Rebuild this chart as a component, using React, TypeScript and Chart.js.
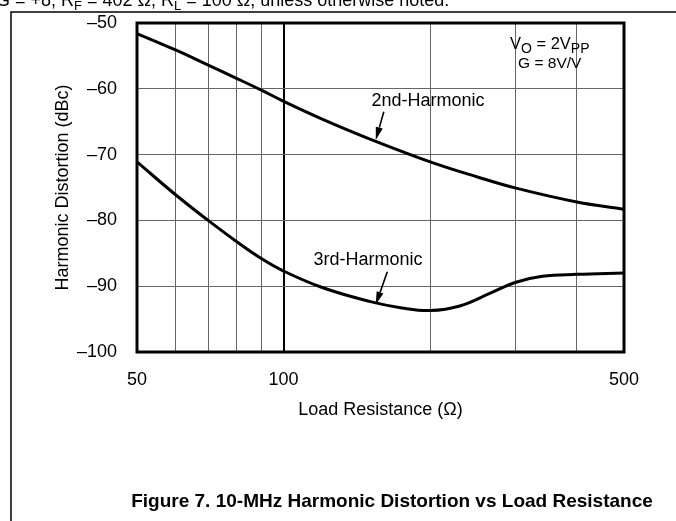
import React, { useEffect, useRef } from 'react';
import { Chart, registerables } from 'chart.js';

Chart.register(...registerables);

// ---------- data ----------
const xTickValues = [50, 60, 70, 80, 90, 100, 200, 300, 400, 500];
const xLabeledTicks = [50, 100, 500];
const yMin = -100;
const yMax = -50;
const yStep = 10;

const secondR = [50, 60, 70, 80, 90, 100, 120, 150, 200, 250, 300, 400, 500];
const secondDBc = [-51.6, -54.1, -56.4, -58.4, -60.2, -61.9, -64.6, -67.6, -71.1, -73.4, -75.1, -77.2, -78.3];

const thirdR = [50, 60, 70, 80, 90, 100, 120, 150, 175, 200, 230, 265, 300, 340, 400, 500];
const thirdDBc = [-71.1, -76.1, -80.0, -83.2, -85.8, -87.7, -90.2, -92.3, -93.3, -93.7, -93.0, -91.1, -89.4, -88.5, -88.2, -88.0];

const seriesNames = ['2nd-Harmonic', '3rd-Harmonic'];
const xTitle = 'Load Resistance (Ω)';
const yTitle = 'Harmonic Distortion (dBc)';
const captionText = 'Figure 7. 10-MHz Harmonic Distortion vs Load Resistance';

// annotation anchors in data units (label centre, arrow tail, arrow tip)
const labelAnchors = [
  { label: [198, -61.9], tail: [160.6, -63.5], tip: [154.6, -67.8] },
  { label: [149, -86.0], tail: [163.3, -87.8], tip: [154.6, -92.8] },
];
const conditionAnchor = [352, -53.1];
const conditionAnchor2 = [352, -55.9];

// ---------- helpers ----------
const FAMILY = '"Liberation Sans", Arial, Helvetica, sans-serif';

type Part = { t: string; sub?: boolean };

function drawRich(ctx: CanvasRenderingContext2D, parts: Part[], x: number, y: number, size: number, subSize: number, align: 'left' | 'center', weight = 'normal') {
  const fontFor = (p: Part) => `${weight} ${p.sub ? subSize : size}px ${FAMILY}`;
  let total = 0;
  for (const p of parts) {
    ctx.font = fontFor(p);
    total += ctx.measureText(p.t).width;
  }
  let cx = align === 'center' ? x - total / 2 : x;
  ctx.textAlign = 'left';
  ctx.textBaseline = 'alphabetic';
  for (const p of parts) {
    ctx.font = fontFor(p);
    ctx.fillText(p.t, cx, p.sub ? y + size * 0.24 : y);
    cx += ctx.measureText(p.t).width;
  }
}

function arrow(ctx: CanvasRenderingContext2D, x1: number, y1: number, x2: number, y2: number) {
  const ang = Math.atan2(y2 - y1, x2 - x1);
  const len = 13;
  const hw = 3.6;
  const bx = x2 - Math.cos(ang) * len;
  const by = y2 - Math.sin(ang) * len;
  ctx.beginPath();
  ctx.moveTo(x1, y1);
  ctx.lineTo(bx, by);
  ctx.lineWidth = 1.6;
  ctx.strokeStyle = '#000';
  ctx.stroke();
  ctx.beginPath();
  ctx.moveTo(x2, y2);
  ctx.lineTo(bx + Math.sin(ang) * hw, by - Math.cos(ang) * hw);
  ctx.lineTo(bx - Math.sin(ang) * hw, by + Math.cos(ang) * hw);
  ctx.closePath();
  ctx.fillStyle = '#000';
  ctx.fill();
}

const overlay = {
  id: 'overlay',
  afterDraw(chart: any) {
    const { ctx, chartArea: a, scales } = chart;
    const xs = scales.x;
    const ys = scales.y;
    ctx.save();
    // plot frame
    ctx.strokeStyle = '#000';
    ctx.lineWidth = 3;
    ctx.strokeRect(a.left, a.top, a.right - a.left, a.bottom - a.top);

    // series labels + arrows
    ctx.fillStyle = '#000';
    labelAnchors.forEach((an, i) => {
      const lx = xs.getPixelForValue(an.label[0]);
      const ly = ys.getPixelForValue(an.label[1]);
      ctx.font = `18px ${FAMILY}`;
      ctx.textAlign = 'center';
      ctx.textBaseline = 'middle';
      ctx.fillText(seriesNames[i], lx, ly);
      arrow(
        ctx,
        xs.getPixelForValue(an.tail[0]), ys.getPixelForValue(an.tail[1]),
        xs.getPixelForValue(an.tip[0]), ys.getPixelForValue(an.tip[1])
      );
    });

    // test conditions
    ctx.fillStyle = '#000';
    drawRich(ctx, [{ t: 'V' }, { t: 'O', sub: true }, { t: ' = 2V' }, { t: 'PP', sub: true }],
      xs.getPixelForValue(conditionAnchor[0]), ys.getPixelForValue(conditionAnchor[1]) + 6, 16.5, 14, 'center');
    drawRich(ctx, [{ t: 'G = 8V/V' }],
      xs.getPixelForValue(conditionAnchor2[0]), ys.getPixelForValue(conditionAnchor2[1]) + 6, 15.5, 12, 'center');

    // page frame lines
    ctx.lineWidth = 1.5;
    ctx.beginPath();
    ctx.moveTo(676, 12);
    ctx.lineTo(11, 12);
    ctx.lineTo(11, 521);
    ctx.stroke();

    // header line (clipped at the top)
    drawRich(ctx, [
      { t: 'G = +8, R' }, { t: 'F', sub: true }, { t: ' = 402 Ω, R' }, { t: 'L', sub: true },
      { t: ' = 100 Ω, unless otherwise noted.' },
    ], -4, 6, 18, 13, 'left');

    // caption
    ctx.font = `bold 19px ${FAMILY}`;
    ctx.textAlign = 'center';
    ctx.textBaseline = 'alphabetic';
    ctx.fillText(captionText, 392, 507);
    ctx.restore();
  },
};

export default function App() {
  const ref = useRef<HTMLCanvasElement>(null);

  useEffect(() => {
    if (!ref.current) return;
    const font = { family: FAMILY, size: 18 };
    const chart = new Chart(ref.current, {
      type: 'line',
      data: {
        datasets: [
          {
            label: seriesNames[0],
            data: secondR.map((r, i) => ({ x: r, y: secondDBc[i] })),
            borderColor: '#000',
            borderWidth: 3,
            pointRadius: 0,
            tension: 0.4,
            fill: false,
          },
          {
            label: seriesNames[1],
            data: thirdR.map((r, i) => ({ x: r, y: thirdDBc[i] })),
            borderColor: '#000',
            borderWidth: 3,
            pointRadius: 0,
            tension: 0.4,
            fill: false,
          },
        ],
      },
      options: {
        animation: false,
        responsive: true,
        maintainAspectRatio: false,
        devicePixelRatio: 1,
        layout: { padding: { left: 0, right: 52, top: 23, bottom: 0 } },
        plugins: { legend: { display: false }, tooltip: { enabled: false }, title: { display: false } },
        scales: {
          x: {
            type: 'logarithmic',
            min: 50,
            max: 500,
            afterBuildTicks: (s: any) => {
              s.ticks = xTickValues.map((v) => ({ value: v }));
            },
            afterFit: (s: any) => {
              s.height = 169;
              s.paddingLeft = 0;
              s.paddingRight = 0;
            },
            ticks: {
              autoSkip: false,
              maxRotation: 0,
              minRotation: 0,
              padding: 17,
              color: '#000',
              font,
              callback: (v: any) => (xLabeledTicks.includes(Number(v)) ? String(v) : ''),
            },
            grid: {
              drawTicks: false,
              color: (c: any) => (c.tick && c.tick.value === 100 ? '#000' : '#666'),
              lineWidth: (c: any) => (c.tick && c.tick.value === 100 ? 2 : 1),
            },
            border: { display: false },
            title: { display: true, text: xTitle, color: '#000', font, padding: { top: 0, bottom: 100 } },
          },
          y: {
            type: 'linear',
            min: yMin,
            max: yMax,
            afterFit: (s: any) => {
              s.width = 137;
              s.paddingTop = 0;
              s.paddingBottom = 0;
            },
            ticks: {
              stepSize: yStep,
              padding: 20,
              color: '#000',
              font,
              callback: (v: any) => (Number(v) < 0 ? '–' + Math.abs(Number(v)) : String(v)),
            },
            grid: { drawTicks: false, color: '#666', lineWidth: 1 },
            border: { display: false },
            title: { display: true, text: yTitle, color: '#000', font, padding: { top: 52, bottom: 0 } },
          },
        },
      },
      plugins: [overlay],
    } as any);
    return () => chart.destroy();
  }, []);

  return (
    <div style={{ position: 'absolute', left: 0, top: 0, width: 676, height: 521, overflow: 'hidden', background: '#fff' }}>
      <canvas ref={ref} width={676} height={521} />
    </div>
  );
}
